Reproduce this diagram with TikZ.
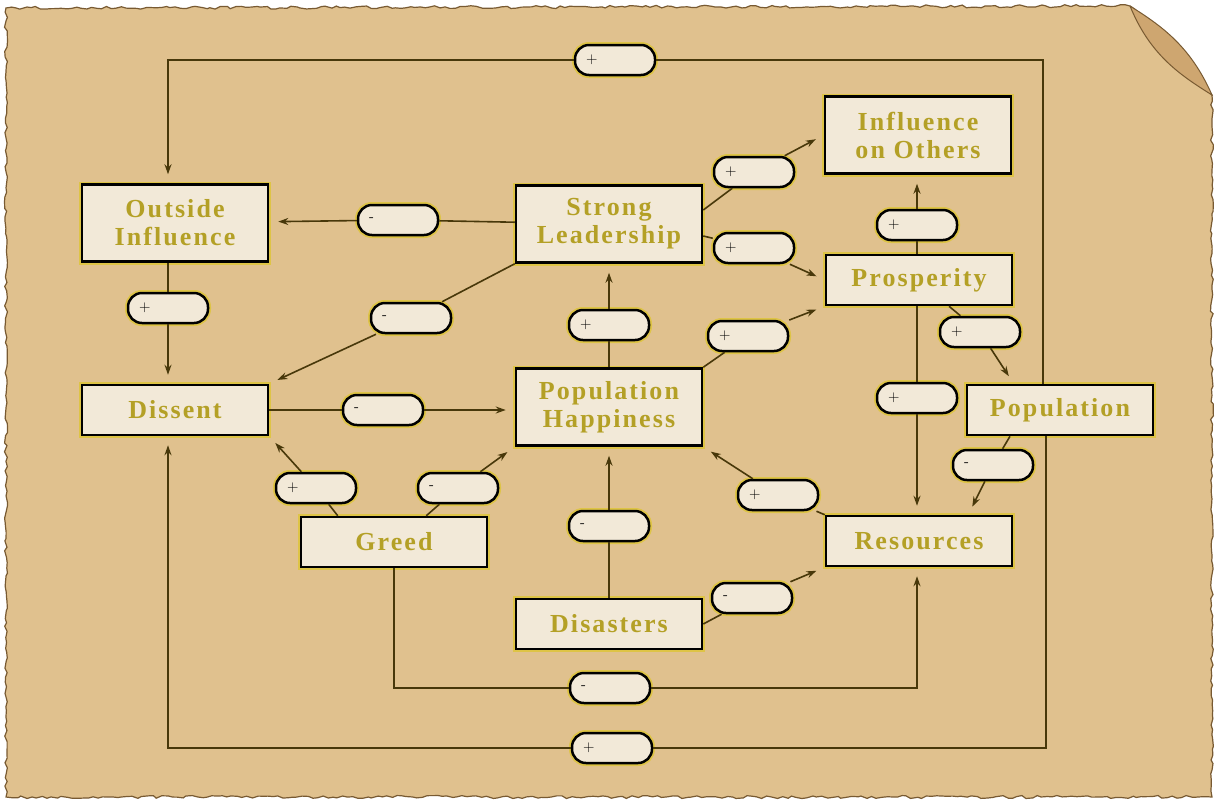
\documentclass[tikz,border=0pt]{standalone}
\usepackage{fontspec}
\setmainfont{Liberation Serif}
\newfontfamily\boxfont[LetterSpace=8]{Liberation Serif}
\usetikzlibrary{arrows.meta,decorations.pathmorphing}

\definecolor{parch}{RGB}{224,193,142}
\definecolor{paperedge}{RGB}{120,90,50}
\definecolor{curl}{RGB}{206,166,112}
\definecolor{boxfill}{RGB}{242,233,216}
\definecolor{glow}{RGB}{222,196,70}
\definecolor{linecol}{RGB}{72,56,10}
\definecolor{boxtext}{RGB}{180,160,38}

\tikzset{
  box/.style={draw=black, line width=2.5pt, fill=boxfill, minimum width=186pt,
    minimum height=50pt, align=center, text=boxtext,
    font=\boxfont\fontsize{26}{28}\selectfont\bfseries,
    preaction={draw=glow, line width=6pt}},
  tallbox/.style={box, minimum height=77pt},
  sign/.style={draw=black, line width=2.5pt, fill=boxfill, rounded corners=14pt,
    minimum width=80pt, minimum height=30pt, inner sep=0pt, text width=58pt,
    align=left, font=\sffamily\fontsize{15}{15}\selectfont,
    preaction={draw=glow, line width=6pt}},
  link/.style={draw=linecol, line width=1.6pt},
  arr/.style={link, -{Stealth[length=10pt,width=7pt]}, shorten >=9pt}
}

\begin{document}
\begin{tikzpicture}[x=1pt,y=-1pt]
\useasboundingbox (0,0) rectangle (1218,804);

% parchment
\fill[white] (0,0) rectangle (1218,804);
\draw[decorate, decoration={random steps,segment length=5pt,amplitude=1.5pt},
      fill=parch, draw=paperedge, line width=1.2pt]
  (6,8) -- (1130,6) -- (1212,95) -- (1212,797) -- (6,797) -- cycle;
\fill[curl, draw=paperedge, line width=1pt]
  (1130,6) .. controls (1160,25) and (1190,45) .. (1212,95)
  .. controls (1180,75) and (1150,55) .. (1130,6);

% factors
\node[tallbox] (outside) at (175,223) {Outside\\Influence};
\node[tallbox] (leader)  at (609,224) {Strong\\Leadership};
\node[tallbox] (infl)    at (918,135) {Influence\\on Others};
\node[box]     (prosp)   at (919,280) {Prosperity};
\node[box]     (dissent) at (175,410) {Dissent};
\node[tallbox] (happy)   at (609,407) {Population\\Happiness};
\node[box]     (popul)   at (1060,410) {Population};
\node[box]     (greed)   at (394,542) {Greed};
\node[box]     (resour)  at (919,541) {Resources};
\node[box]     (disast)  at (609,624) {Disasters};

% signs
\node[sign] (pTop)      at (615,60)  {+};
\node[sign] (pOutDis)   at (168,308) {+};
\node[sign] (pLeadOut)  at (398,220) {-};
\node[sign] (pLeadDis)  at (411,318) {-};
\node[sign] (pLeadInfl) at (754,172) {+};
\node[sign] (pLeadPros) at (754,248) {+};
\node[sign] (pHapLead)  at (609,325) {+};
\node[sign] (pHapPros)  at (748,336) {+};
\node[sign] (pProsInfl) at (917,225) {+};
\node[sign] (pProsPop)  at (980,332) {+};
\node[sign] (pProsRes)  at (917,398) {+};
\node[sign] (pPopRes)   at (993,465) {-};
\node[sign] (pDisHap)   at (383,410) {-};
\node[sign] (pGreedDis) at (316,488) {+};
\node[sign] (pGreedHap) at (458,488) {-};
\node[sign] (pResHap)   at (778,495) {+};
\node[sign] (pDisasHap) at (609,526) {-};
\node[sign] (pDisasRes) at (752,598) {-};
\node[sign] (pGreedRes) at (610,688) {-};
\node[sign] (pBot)      at (612,748) {+};

% links
\draw[link] ([xshift=-17pt]popul.north) |- (pTop);
\draw[arr]  (pTop) -| ([xshift=-7pt]outside.north);
\draw[link] ([xshift=-14pt]popul.south) |- (pBot);
\draw[arr]  (pBot) -| ([xshift=-7pt]dissent.south);
\draw[link] (greed.south) |- (pGreedRes);
\draw[arr]  (pGreedRes) -| ([xshift=-2pt]resour.south);

\draw[link] ([xshift=-7pt]outside.south) -- (pOutDis);
\draw[arr]  (pOutDis) -- ([xshift=-7pt]dissent.north);
\draw[link] (leader) -- (pLeadOut);
\draw[arr]  (pLeadOut) -- (outside);
\draw[link] (leader.south west) -- (pLeadDis);
\draw[arr]  (pLeadDis) -- (dissent.north east);
\draw[link] ([yshift=14pt]leader.east) -- (pLeadInfl);
\draw[arr]  (pLeadInfl) -- (infl.west);
\draw[link] ([yshift=-12pt]leader.east) -- (pLeadPros);
\draw[arr]  (pLeadPros) -- (prosp.west);
\draw[link] (happy) -- (pHapLead);
\draw[arr]  (pHapLead) -- (leader);
\draw[link] (happy.north east) -- (pHapPros);
\draw[arr]  (pHapPros) -- (prosp.south west);
\draw[link] ([xshift=-2pt]prosp.north) -- (pProsInfl);
\draw[arr]  (pProsInfl) -- ([xshift=-1pt]infl.south);
\draw[link] ([xshift=30pt]prosp.south) -- (pProsPop);
\draw[arr]  (pProsPop) -- ([xshift=48pt]popul.north west);
\draw[link] ([xshift=-2pt]prosp.south) -- (pProsRes);
\draw[arr]  (pProsRes) -- ([xshift=-2pt]resour.north);
\draw[link] ([xshift=-50pt]popul.south) -- (pPopRes);
\draw[arr]  (pPopRes) -- ([xshift=-45pt]resour.north east);
\draw[link] (dissent) -- (pDisHap);
\draw[arr]  (pDisHap) -- (happy.west |- dissent);
\draw[link] ([xshift=38pt]greed.north west) -- (pGreedDis);
\draw[arr]  (pGreedDis) -- (dissent.south east);
\draw[link] ([xshift=-62pt]greed.north east) -- (pGreedHap);
\draw[arr]  (pGreedHap) -- (happy.south west);
\draw[link] (resour.north west) -- (pResHap);
\draw[arr]  (pResHap) -- (happy.south east);
\draw[link] (disast) -- (pDisasHap);
\draw[arr]  (pDisasHap) -- (happy);
\draw[link] (disast.east) -- (pDisasRes);
\draw[arr]  (pDisasRes) -- (resour.south west);
\end{tikzpicture}
\end{document}
